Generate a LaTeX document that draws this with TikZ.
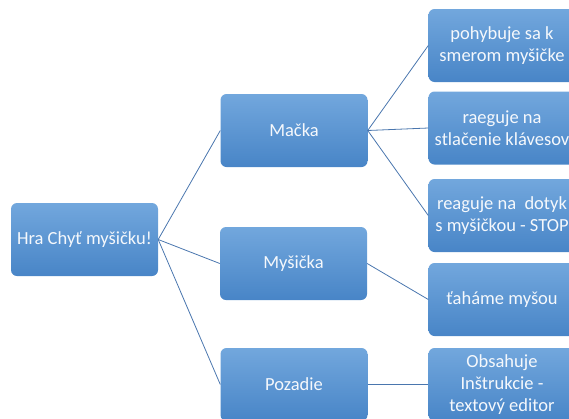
\documentclass[tikz,border=0pt]{standalone}
\usepackage{fontspec}
\setmainfont{Carlito}
\definecolor{boxtop}{RGB}{114,167,221}
\definecolor{boxbot}{RGB}{72,133,199}
\definecolor{linkc}{RGB}{74,118,174}
\definecolor{txt}{RGB}{245,248,252}
\begin{document}
\begin{tikzpicture}[x=1pt,y=-1pt,
  box/.style={rectangle, rounded corners=6pt, minimum width=147pt, minimum height=73pt,
    inner sep=2pt, align=center, text=txt, top color=boxtop, bottom color=boxbot,
    font=\fontsize{18.5}{22}\selectfont},
  link/.style={draw=linkc, line width=0.8pt}]
\useasboundingbox (0,0) rectangle (569,418);
\clip (0,0) rectangle (569,418);
\node[box] (root) at (84.5,239.5) {Hra Chyť myšičku!};
\node[box] (macka) at (294,130.5) {Mačka};
\node[box] (mys) at (293.5,263.5) {Myšička};
\node[box] (poz) at (294,384.5) {Pozadie};
\node[box] (r1) at (502,45.5) {pohybuje sa k\\smerom myšičke};
\node[box] (r2) at (502,128) {raeguje na\\stlačenie klávesov};
\node[box] (r3) at (502,215.5) {reaguje na~ dotyk\\s myšičkou - STOP};
\node[box] (r4) at (502,299.5) {ťaháme myšou};
\node[box] (r5) at (502,384.5) {Obsahuje\\Inštrukcie -\\textový editor};
\draw[link] (root.east) -- (macka.west);
\draw[link] (root.east) -- (mys.west);
\draw[link] (root.east) -- (poz.west);
\draw[link] (macka.east) -- (r1.west);
\draw[link] (macka.east) -- (r2.west);
\draw[link] (macka.east) -- (r3.west);
\draw[link] (mys.east) -- (r4.west);
\draw[link] (poz.east) -- (r5.west);
\end{tikzpicture}
\end{document}
